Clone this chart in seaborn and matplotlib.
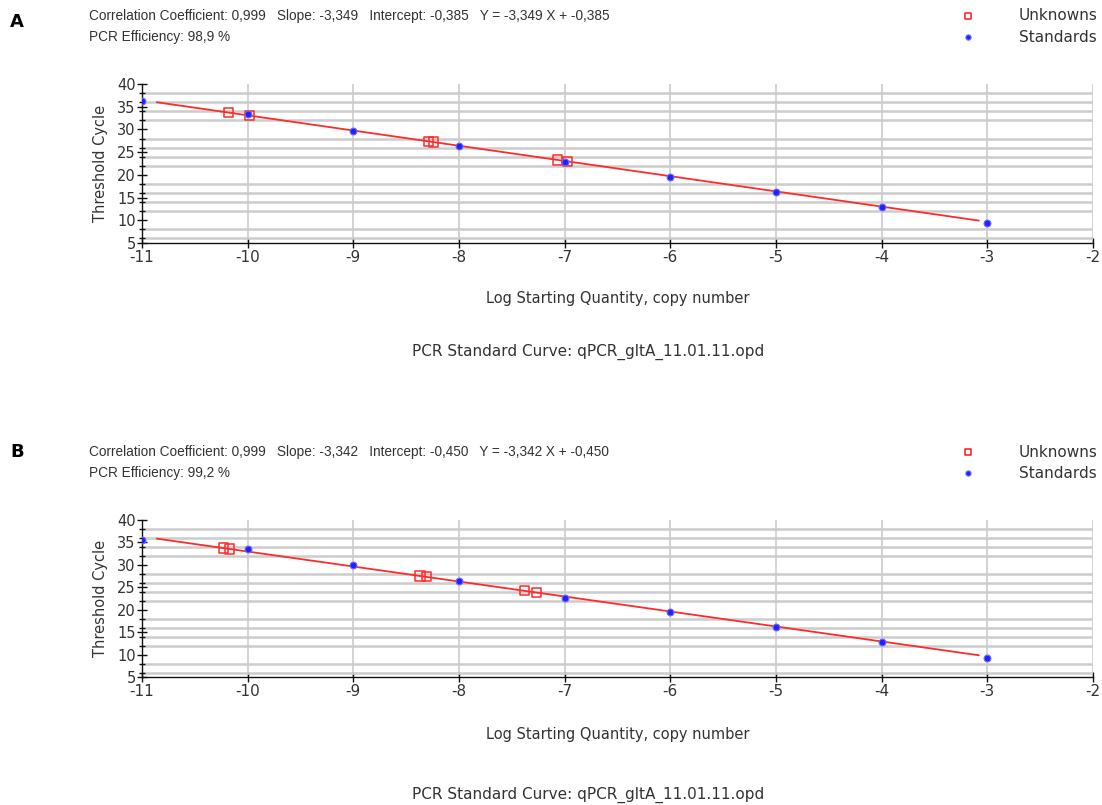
import numpy as np
import pandas as pd
import matplotlib
matplotlib.use("Agg")
import matplotlib.pyplot as plt
from matplotlib.ticker import MultipleLocator
import seaborn as sns

# ---- data ----
std_log_qty = [-11, -10, -9, -8, -7, -6, -5, -4, -3]

a_std_ct = [36.2, 33.5, 29.7, 26.3, 22.8, 19.6, 16.3, 13.0, 9.5]
a_unk_log_qty = [-10.18, -9.98, -8.29, -8.24, -7.07, -6.97]
a_unk_ct = [33.71, 33.04, 27.38, 27.21, 23.29, 22.96]
a_slope, a_intercept = -3.349, -0.385
a_corr, a_eff = "0,999", "98,9"

b_std_ct = [35.6, 33.5, 30.0, 26.3, 22.6, 19.6, 16.2, 12.9, 9.3]
b_unk_log_qty = [-10.23, -10.17, -8.37, -8.31, -7.38, -7.27]
b_unk_ct = [33.74, 33.54, 27.52, 27.32, 24.21, 23.85]
b_slope, b_intercept = -3.342, -0.450
b_corr, b_eff = "0,999", "99,2"

fit_range = [-10.86, -3.08]
x_ticks = [-11, -10, -9, -8, -7, -6, -5, -4, -3, -2]
y_ticks = [5, 10, 15, 20, 25, 30, 35, 40]
file_name = "qPCR_gltA_11.01.11.opd"

sns.set_theme(style="white")
plt.rcParams["font.family"] = ["DejaVu Sans"]

TXT = "#333333"
RED = "#ff2a2a"
BLUE = "#2222ff"
GRID = "#cccccc"
W, H = 1102.0, 805.0
HEAD_FONT = ["Liberation Sans", "DejaVu Sans"]


def fmt(v):
    return f"{v:.3f}".replace(".", ",")


def panel(fig, rect, letter, letter_y, std_ct, unk_x, unk_y, slope, intercept,
          corr, eff, top_px, xlabel_pad, footer_y):
    ax = fig.add_axes(rect)
    fit = pd.DataFrame({"x": fit_range})
    fit["y"] = slope * fit["x"] + intercept
    sns.lineplot(data=fit, x="x", y="y", ax=ax, color=RED, lw=1.3, zorder=3)
    std = pd.DataFrame({"x": std_log_qty, "y": std_ct})
    sns.scatterplot(data=std, x="x", y="y", ax=ax, marker="o", s=24,
                    color=BLUE, edgecolor="#6a6aff", linewidth=0.8, zorder=5)
    unk = pd.DataFrame({"x": unk_x, "y": unk_y})
    sns.scatterplot(data=unk, x="x", y="y", ax=ax, marker="s", s=44,
                    facecolor="none", edgecolor=RED, linewidth=1.1, zorder=4)

    ax.set_xlim(-11, -2)
    ax.set_ylim(5, 40)
    ax.set_xticks(x_ticks)
    ax.set_xticklabels([str(t) for t in x_ticks])
    ax.set_yticks(y_ticks)
    ax.yaxis.set_minor_locator(MultipleLocator(2))
    ax.grid(False)
    ax.grid(True, axis="x", which="major", color=GRID, lw=1.2)
    ax.grid(True, axis="y", which="minor", color=GRID, lw=1.8)
    ax.set_axisbelow(True)
    for s in ("top", "right"):
        ax.spines[s].set_visible(False)
    for s in ("left", "bottom"):
        ax.spines[s].set_color("#111111")
        ax.spines[s].set_linewidth(1.0)
    ax.tick_params(axis="both", which="major", direction="inout", length=7,
                   width=1.0, colors="#111111", labelcolor=TXT,
                   left=True, bottom=True)
    ax.tick_params(axis="x", labelsize=11, pad=1.5)
    ax.tick_params(axis="y", labelsize=10.5, pad=1)
    ax.tick_params(axis="y", which="minor", direction="inout", length=5,
                   width=1.0, colors="#111111", left=True)
    ax.set_xlabel("Log Starting Quantity, copy number", color=TXT, fontsize=10.5,
                  labelpad=xlabel_pad)
    ax.set_ylabel("Threshold Cycle", color=TXT, fontsize=10.5, labelpad=6.5)

    fig.text(10 / W, 1 - letter_y / H, letter, fontsize=13, fontweight="bold",
             color="black", va="center", ha="left")
    header = (f"Correlation Coefficient: {corr}   Slope: {fmt(slope)}   "
              f"Intercept: {fmt(intercept)}   Y = {fmt(slope)} X + {fmt(intercept)}")
    fig.text(89 / W, 1 - (top_px + 6) / H, header, fontsize=9.8, color=TXT,
             va="center", ha="left", family=HEAD_FONT)
    fig.text(89 / W, 1 - (top_px + 27) / H, f"PCR Efficiency: {eff} %", fontsize=9.8,
             color=TXT, va="center", ha="left", family=HEAD_FONT)
    # legend entries
    fig.text(1019 / W, 1 - (top_px + 6) / H, "Unknowns", fontsize=11, color=TXT,
             va="center", ha="left")
    fig.text(1019 / W, 1 - (top_px + 27) / H, "Standards", fontsize=11, color=TXT,
             va="center", ha="left")
    lax = fig.add_axes([960 / W, 1 - (top_px + 36) / H, 16 / W, 40 / H])
    lax.set_xlim(0, 1)
    lax.set_ylim(0, 40)
    lax.axis("off")
    sns.scatterplot(x=[0.5], y=[30], ax=lax, marker="s", s=22, facecolor="none",
                    edgecolor=RED, linewidth=1.2)
    sns.scatterplot(x=[0.5], y=[9], ax=lax, marker="o", s=14, color=BLUE,
                    edgecolor="#6a6aff", linewidth=0.8)

    fig.text(588 / W, 1 - footer_y / H,
             f"PCR Standard Curve: {file_name}", fontsize=11, color=TXT,
             va="center", ha="center")
    return ax


fig = plt.figure(figsize=(11.02, 8.05), dpi=100)
fig.patch.set_facecolor("white")

panel(fig, [142 / W, 1 - 243 / H, 951 / W, 159 / H], "A", 22,
      a_std_ct, a_unk_log_qty, a_unk_ct, a_slope, a_intercept, a_corr, a_eff,
      10, 19, 352)
panel(fig, [142 / W, 1 - 677 / H, 951 / W, 157 / H], "B", 452,
      b_std_ct, b_unk_log_qty, b_unk_ct, b_slope, b_intercept, b_corr, b_eff,
      446, 20.5, 795)

fig.savefig("out.png", dpi=100)
